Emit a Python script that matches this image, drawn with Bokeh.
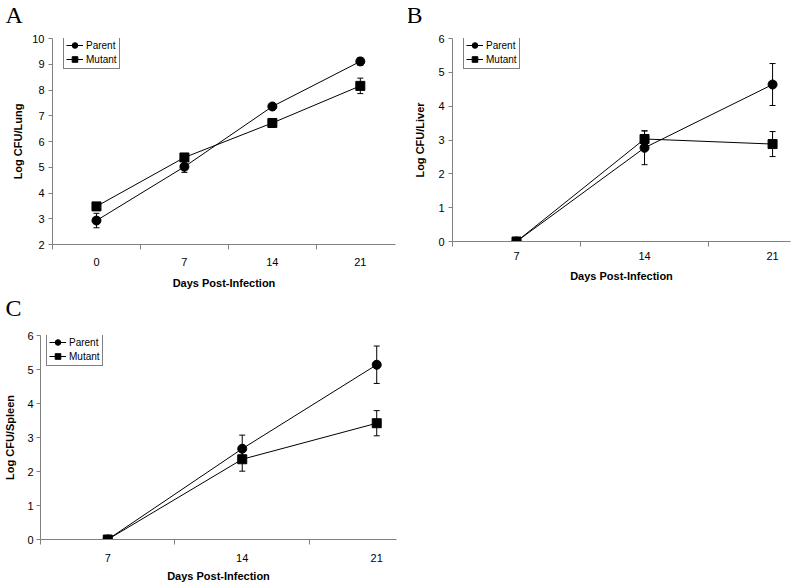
from bokeh.plotting import figure
from bokeh.layouts import row, column
from bokeh.models import (ColumnDataSource, Whisker, TeeHead, FixedTicker, Legend,
                          LegendItem, Range1d)
from bokeh.embed import file_html
from bokeh.resources import INLINE

# ---------------- data ----------------
days_A = ["0", "7", "14", "21"]
parent_A = [2.93, 5.02, 7.36, 9.11]
parent_A_err = [0.28, 0.22, 0.07, 0.15]
mutant_A = [3.48, 5.38, 6.72, 8.16]
mutant_A_err = [0.10, 0.10, 0.07, 0.30]

days_B = ["7", "14", "21"]
parent_B = [0.0, 2.77, 4.64]
parent_B_err = [0.0, 0.50, 0.62]
mutant_B = [0.0, 3.03, 2.88]
mutant_B_err = [0.0, 0.24, 0.37]

days_C = ["7", "14", "21"]
parent_C = [0.0, 2.67, 5.14]
parent_C_err = [0.0, 0.40, 0.55]
mutant_C = [0.0, 2.36, 3.42]
mutant_C_err = [0.0, 0.35, 0.37]

series_names = ["Parent", "Mutant"]
x_title = "Days Post-Infection"

FONT = "Liberation Sans"
SERIF = "Liberation Serif"
GRAY = "#808080"
LEGEND_H = 31


def make_panel(letter, days, parent, parent_err, mutant, mutant_err, ylabel,
               y_lo, y_hi, x_hi, fw, fh, bl, br, bt, bb, legend_x,
               ylab_standoff, ytick_standoff, xtick_standoff, xlab_standoff,
               letter_offset, letter_lh):
    xs = list(range(len(days)))
    p = figure(frame_width=fw, frame_height=fh,
               min_border_left=bl, min_border_right=br,
               min_border_top=bt, min_border_bottom=bb,
               x_range=Range1d(-0.5, x_hi), y_range=Range1d(y_lo, y_hi),
               output_backend="svg", toolbar_location=None, tools="",
               outline_line_color=None, background_fill_color="white",
               border_fill_color="white")
    p.xgrid.visible = False
    p.ygrid.visible = False

    # panel letter (second, empty line only reserves space below the letter)
    p.title.text = letter + "\n"
    p.title.text_font = SERIF
    p.title.text_font_size = "24px"
    p.title.text_font_style = "normal"
    p.title.text_color = "black"
    p.title.text_line_height = letter_lh
    p.title.align = "left"
    p.title.vertical_align = "top"
    p.title.offset = letter_offset
    p.title.standoff = 0

    items = []
    for name, vals, errs, marker in ((series_names[0], parent, parent_err, "circle"),
                                     (series_names[1], mutant, mutant_err, "square")):
        src = ColumnDataSource(dict(
            x=xs, y=vals,
            upper=[v + e for v, e in zip(vals, errs)],
            lower=[v - e for v, e in zip(vals, errs)]))
        ln = p.line("x", "y", source=src, line_color="black", line_width=1)
        wh = Whisker(source=src, base="x", upper="upper", lower="lower",
                     dimension="height", line_color="black", line_width=1,
                     upper_head=TeeHead(size=6, line_color="black", line_width=1),
                     lower_head=TeeHead(size=6, line_color="black", line_width=1))
        p.add_layout(wh)
        sc = p.scatter("x", "y", source=src, marker=marker, size=9,
                       fill_color="black", line_color="black")
        items.append(LegendItem(label=name, renderers=[ln, sc]))

    legend = Legend(items=items, location=(legend_x, fh - LEGEND_H),
                    border_line_color="black", border_line_width=1,
                    background_fill_color="white", background_fill_alpha=1,
                    label_text_font=FONT, label_text_font_size="10px",
                    label_text_color="black",
                    glyph_width=17, glyph_height=14, label_height=14,
                    label_standoff=3, padding=2, spacing=0, margin=0)
    p.add_layout(legend)

    # y axis
    ya = p.yaxis[0]
    ya.ticker = FixedTicker(ticks=list(range(int(y_lo), int(y_hi) + 1)))
    ya.axis_label = ylabel
    # x axis (categories centred between boundary ticks)
    xa = p.xaxis[0]
    xa.ticker = FixedTicker(ticks=xs, minor_ticks=[i - 0.5 for i in range(len(days) + 1)])
    xa.major_label_overrides = {i: d for i, d in enumerate(days)}
    xa.axis_label = x_title

    for ax in (xa, ya):
        ax.axis_line_color = GRAY
        ax.major_tick_line_color = GRAY
        ax.minor_tick_line_color = GRAY
        ax.major_label_text_font = FONT
        ax.major_label_text_font_size = "11px"
        ax.major_label_text_color = "black"
        ax.axis_label_text_font = FONT
        ax.axis_label_text_font_size = "11px"
        ax.axis_label_text_font_style = "bold"
        ax.axis_label_text_color = "black"

    ya.major_tick_out = 4
    ya.major_tick_in = 0
    ya.minor_tick_line_color = None
    ya.major_label_standoff = ytick_standoff
    ya.axis_label_standoff = ylab_standoff

    xa.major_tick_out = 0
    xa.major_tick_in = 0
    xa.minor_tick_out = 5
    xa.minor_tick_in = 0
    xa.major_label_standoff = xtick_standoff
    xa.axis_label_standoff = xlab_standoff
    return p


pA = make_panel("A", days_A, parent_A, parent_A_err, mutant_A, mutant_A_err,
                "Log CFU/Lung", 2, 10, 3.40,
                fw=343, fh=206, bl=52, br=13, bt=38, bb=48, legend_x=11,
                ylab_standoff=5, ytick_standoff=4, xtick_standoff=8, xlab_standoff=8,
                letter_offset=-47, letter_lh=0.33)

pB = make_panel("B", days_B, parent_B, parent_B_err, mutant_B, mutant_B_err,
                "Log CFU/Liver", 0, 6, 2.14,
                fw=338, fh=203, bl=44, br=2, bt=38, bb=51, legend_x=11,
                ylab_standoff=9, ytick_standoff=4, xtick_standoff=5, xlab_standoff=7,
                letter_offset=-46, letter_lh=0.33)

pC = make_panel("C", days_C, parent_C, parent_C_err, mutant_C, mutant_C_err,
                "Log CFU/Spleen", 0, 6, 2.147,
                fw=356, fh=204, bl=40, br=4, bt=43, bb=44, legend_x=6,
                ylab_standoff=8, ytick_standoff=3, xtick_standoff=9, xlab_standoff=5,
                letter_offset=-35, letter_lh=0.5)

layout = column(row(pA, pB), pC)

open("out.html", "w").write(file_html(layout, INLINE))
